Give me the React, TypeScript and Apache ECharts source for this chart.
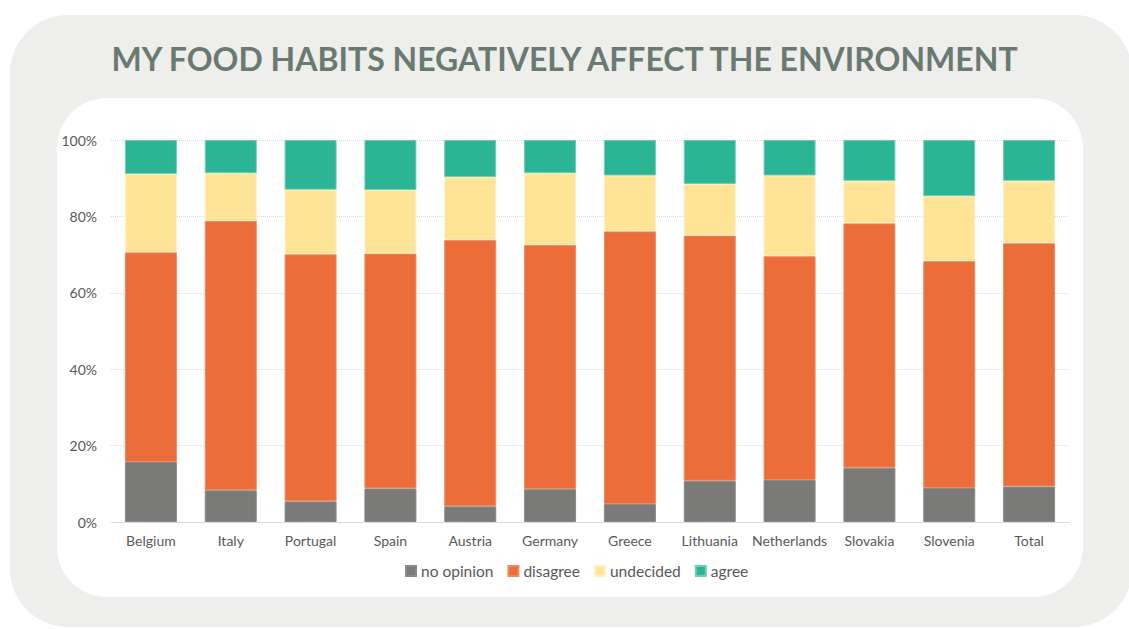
import React, { useEffect, useRef } from "react";
import * as echarts from "echarts";

const categories = ["Belgium", "Italy", "Portugal", "Spain", "Austria", "Germany", "Greece", "Lithuania", "Netherlands", "Slovakia", "Slovenia", "Total"];
const noOpinion = [15.7, 8.3, 5.4, 8.8, 4.1, 8.6, 4.7, 10.8, 11.0, 14.2, 8.9, 9.3];
const disagree = [54.9, 70.5, 64.7, 61.5, 69.7, 63.9, 71.4, 64.2, 58.6, 64.0, 59.4, 63.7];
const undecided = [20.5, 12.5, 16.9, 16.6, 16.5, 18.8, 14.6, 13.5, 21.1, 11.1, 17.0, 16.3];
const agree = [8.9, 8.7, 13.0, 13.1, 9.7, 8.7, 9.3, 11.5, 9.3, 10.7, 14.7, 10.7];
const yTicks = [0, 20, 40, 60, 80, 100];

const seriesDefs = [
  { name: "no opinion", data: noOpinion, color: "#7a7a78", border: "#8a8a88" },
  { name: "disagree", data: disagree, color: "#eb6d3a", border: "#f08a5e" },
  { name: "undecided", data: undecided, color: "#ffe497", border: "#fff0c0" },
  { name: "agree", data: agree, color: "#2bb594", border: "#6fcdb5" },
];

export default function App() {
  const ref = useRef<HTMLDivElement>(null);
  useEffect(() => {
    if (!ref.current) return;
    const chart = echarts.init(ref.current, null, { renderer: "svg" });
    const font = "Lato, 'Open Sans', sans-serif";
    chart.setOption({
      animation: false,
      backgroundColor: "#ffffff",
      graphic: [
        { type: "rect", z: -10, shape: { x: 10, y: 15, width: 1122, height: 612, r: 58 }, style: { fill: "#eeeeec" } },
        { type: "rect", z: -9, shape: { x: 57, y: 98, width: 1026, height: 499, r: 50 }, style: { fill: "#ffffff" } },
      ],
      title: {
        text: "MY FOOD HABITS NEGATIVELY AFFECT THE ENVIRONMENT",
        left: "center",
        top: 37,
        textStyle: { fontFamily: font, fontWeight: "bold", fontSize: 32, color: "#6b7a70" },
      },
      legend: {
        top: 558,
        left: 400,
        itemWidth: 10,
        itemHeight: 10,
        itemGap: 14,
        icon: "rect",
        textStyle: { fontFamily: font, fontSize: 15.5, color: "#595959" },
        data: seriesDefs.map((s) => s.name),
      },
      grid: { left: 111, right: 60, top: 140, bottom: 107 },
      xAxis: {
        type: "category",
        data: categories,
        axisLine: { lineStyle: { color: "#d9d9d9" } },
        axisTick: { show: false },
        axisLabel: { interval: 0, fontFamily: font, fontSize: 14, color: "#595959", margin: 11 },
      },
      yAxis: {
        type: "value",
        min: yTicks[0],
        max: yTicks[yTicks.length - 1],
        interval: 20,
        axisLine: { show: false },
        axisTick: { show: false },
        axisLabel: { fontFamily: font, fontSize: 14, color: "#595959", margin: 14, formatter: "{value}%" },
        splitLine: { lineStyle: { color: "#d9d9d9", type: "dotted" } },
      },
      series: seriesDefs.map((s) => ({
        name: s.name,
        type: "bar",
        stack: "total",
        barWidth: 52,
        data: s.data,
        itemStyle: { color: s.color, borderColor: s.border, borderWidth: 1 },
      })),
    });
    return () => chart.dispose();
  }, []);
  return <div ref={ref} style={{ position: "absolute", left: 0, top: 0, width: 1129, height: 629 }} />;
}
